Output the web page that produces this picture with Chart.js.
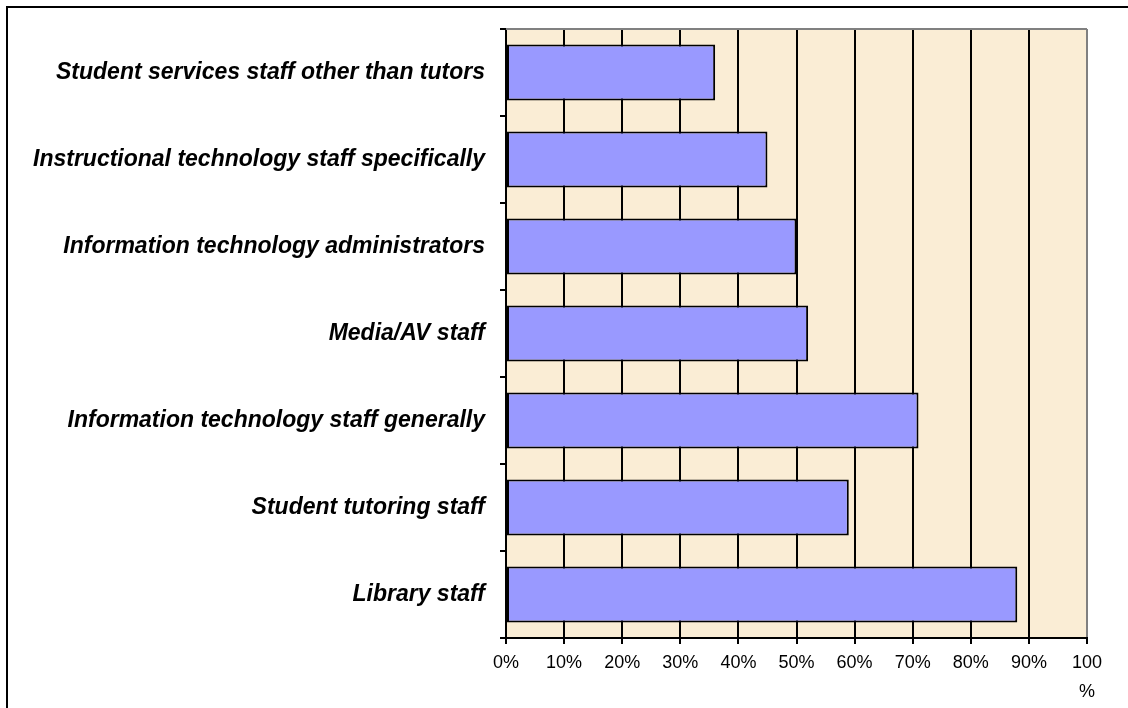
<!DOCTYPE html>
<html>
<head>
<meta charset="utf-8">
<script src="https://cdn.jsdelivr.net/npm/chart.js@4.4.1/dist/chart.umd.min.js"></script>
<style>
  html, body { margin: 0; padding: 0; background: #ffffff; overflow: hidden; }
  #wrap { position: relative; width: 1128px; height: 708px; }
  #frame { position: absolute; left: 6px; top: 6px; width: 1300px; height: 900px; border: 2px solid #000; box-sizing: border-box; pointer-events: none; }
  canvas { position: absolute; left: 0; top: 0; }
</style>
</head>
<body>
<div id="wrap">
  <canvas id="c" width="1128" height="708"></canvas>
  <div id="frame"></div>
</div>
<script>
const categories = [
  'Student services staff other than tutors',
  'Instructional technology staff specifically',
  'Information technology administrators',
  'Media/AV staff',
  'Information technology staff generally',
  'Student tutoring staff',
  'Library staff'
];
const values = [36, 45, 50, 52, 71, 59, 88];
const tickLabels = ['0%', '10%', '20%', '30%', '40%', '50%', '60%', '70%', '80%', '90%', ['100', '%']];

const plotBg = {
  id: 'plotBg',
  beforeDraw(chart) {
    const { ctx, chartArea: a } = chart;
    ctx.save();
    ctx.fillStyle = '#faedd5';
    ctx.fillRect(a.left, a.top, a.right - a.left, a.bottom - a.top);
    ctx.restore();
  },
  afterDatasetsDraw(chart) {
    const { ctx, chartArea: a } = chart;
    ctx.save();
    ctx.strokeStyle = '#808080';
    ctx.lineWidth = 2;
    ctx.beginPath();
    ctx.moveTo(a.left, a.top);
    ctx.lineTo(a.right, a.top);
    ctx.stroke();
    ctx.restore();
  }
};

new Chart(document.getElementById('c'), {
  type: 'bar',
  data: {
    labels: categories,
    datasets: [{
      data: values,
      backgroundColor: '#9999ff',
      borderColor: '#000000',
      borderWidth: 2,
      borderSkipped: false,
      categoryPercentage: 0.645,
      barPercentage: 1.0
    }]
  },
  options: {
    indexAxis: 'y',
    responsive: false,
    animation: false,
    layout: { padding: { left: 0, top: 29, right: 41, bottom: 0 } },
    plugins: { legend: { display: false }, tooltip: { enabled: false } },
    scales: {
      x: {
        min: 0, max: 100,
        afterFit(scale) { scale.height = 70; },
        afterBuildTicks(scale) {
          scale.ticks = tickLabels.map((t, i) => ({ value: i * 10 }));
        },
        ticks: {
          autoSkip: false,
          maxRotation: 0,
          color: '#000',
          padding: 5,
          font: { family: 'Liberation Sans, Arial, sans-serif', size: 18, lineHeight: 1.6 },
          callback: (v, i) => tickLabels[i]
        },
        grid: {
          color: (ctx) => ctx.index === 10 ? '#808080' : '#000000',
          lineWidth: 2,
          tickLength: 6,
          tickColor: '#000000'
        },
        border: { color: '#000', width: 2 }
      },
      y: {
        afterFit(scale) { scale.width = 506; },
        ticks: {
          color: '#000',
          padding: 15,
          font: { family: 'Liberation Sans, Arial, sans-serif', size: 23, style: 'italic', weight: 'bold' }
        },
        grid: {
          offset: true,
          drawOnChartArea: false,
          tickLength: 6,
          color: '#000',
          lineWidth: 2
        },
        border: { color: '#000', width: 2 }
      }
    }
  },
  plugins: [plotBg]
});
</script>
</body>
</html>
